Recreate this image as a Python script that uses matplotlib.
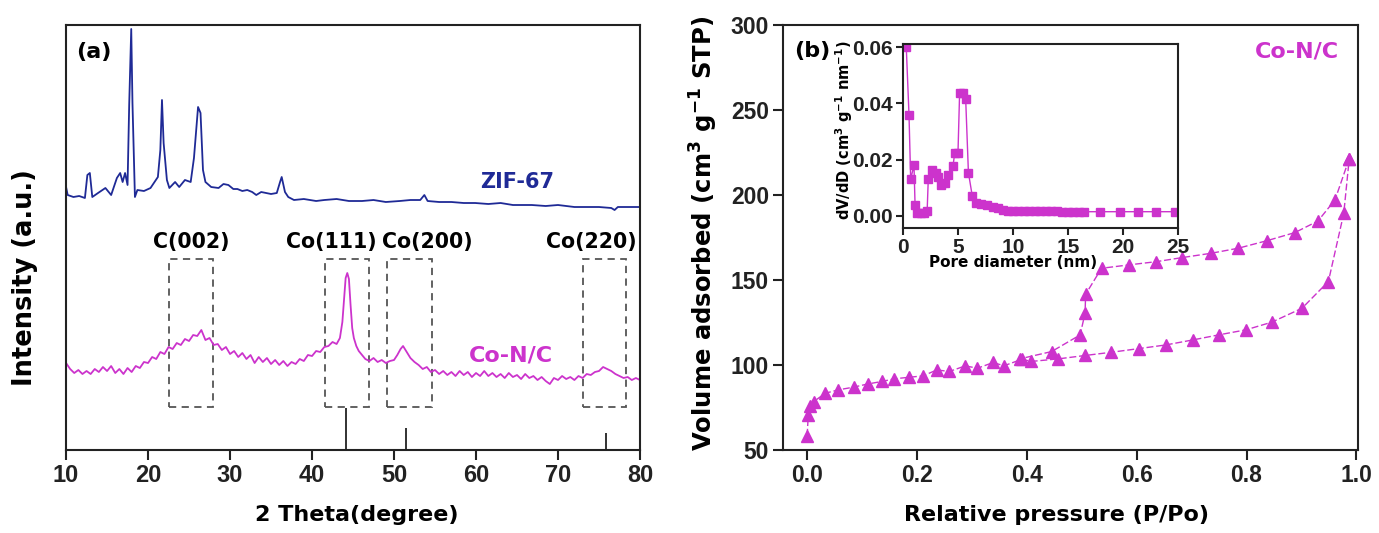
import matplotlib
matplotlib.use('Agg')
import matplotlib.pyplot as plt
from matplotlib.patches import Rectangle

# tick labels in Arial-like bold, text labels in the wider DejaVu bold
plt.rcParams['font.family'] = 'Liberation Sans'
plt.rcParams['font.weight'] = 'bold'
plt.rcParams['mathtext.default'] = 'regular'
LABEL_FONT = 'DejaVu Sans'

BLUE = '#1f2a96'
MAGENTA = '#cc33cc'
BOX_GRAY = '#555555'

# ---- (a) XRD (intensity in arbitrary units) ----
zif_x = [10.0, 10.2, 10.9, 11.6, 12.3, 12.6, 12.9, 13.2, 13.9, 14.8,
         15.5, 16.2, 16.6, 16.9, 17.2, 17.5, 17.7, 17.95, 18.1, 18.4,
         18.7, 19.5, 20.3, 21.2, 21.5, 21.7, 21.9, 22.3, 22.6, 23.3,
         23.8, 24.5, 25.2, 25.6, 26.1, 26.4, 26.7, 27.0, 27.7, 28.6,
         29.2, 29.8, 30.4, 30.9, 31.5, 32.1, 32.7, 33.2, 33.8, 34.4,
         35.0, 35.7, 36.1, 36.3, 36.7, 37.1, 37.8, 39.0, 40.5, 41.5,
         43.0, 44.5, 46.1, 47.5, 49.0, 50.7, 52.0, 53.2, 53.7, 54.1,
         55.5, 57.0, 58.5, 59.9, 61.5, 63.0, 64.5, 66.8, 68.5, 70.0,
         72.0, 73.7, 75.0, 76.5, 76.9, 77.3, 78.5, 80.0]
zif_y = [263, 255, 253, 254, 252, 275, 277, 253, 257, 262,
         255, 272, 277, 268, 277, 265, 345, 421, 347, 253,
         260, 259, 262, 273, 300, 350, 307, 270, 262, 268,
         263, 270, 268, 292, 343, 337, 280, 268, 263, 262,
         266, 265, 261, 261, 259, 260, 258, 255, 258, 257,
         256, 257, 268, 273, 258, 253, 250, 251, 249, 250,
         251, 249, 249, 250, 248, 249, 250, 250, 255, 249,
         248, 248, 247, 247, 246, 247, 245, 245, 244, 245,
         243, 243, 243, 242, 240, 243, 243, 243]

con_x = [10.0, 10.5, 11.0, 11.5, 12.0, 12.5, 13.0, 13.5, 14.0, 14.5,
         15.0, 15.5, 16.0, 16.5, 17.0, 17.5, 18.0, 18.5, 19.0, 19.5,
         20.0, 20.5, 21.0, 21.5, 22.0, 22.5, 23.0, 23.5, 24.0, 24.5,
         25.0, 25.5, 26.0, 26.5, 27.0, 27.5, 28.0, 28.5, 29.0, 29.5,
         30.0, 30.5, 31.0, 31.5, 32.0, 32.5, 33.0, 33.5, 34.0, 34.5,
         35.0, 35.5, 36.0, 36.5, 37.0, 37.5, 38.0, 38.5, 39.0, 39.5,
         40.0, 40.5, 41.0, 41.5, 42.0, 42.5, 43.0,
         43.4, 43.7, 43.9, 44.1, 44.3, 44.5, 44.7, 44.9, 45.1, 45.4, 45.7,
         46.0, 46.5, 47.0, 47.5, 48.0, 48.5, 49.0, 49.5, 50.0,
         50.4, 50.8, 51.1, 51.4, 51.7,
         52.0, 52.5, 53.0, 53.5, 54.0, 54.5, 55.0, 55.5, 56.0, 56.5,
         57.0, 57.5, 58.0, 58.5, 59.0, 59.5, 60.0, 60.5, 61.0, 61.5,
         62.0, 62.5, 63.0, 63.5, 64.0, 64.5, 65.0, 65.5, 66.0, 66.5,
         67.0, 67.5, 68.0, 68.5, 69.0, 69.5, 70.0, 70.5, 71.0, 71.5,
         72.0, 72.5, 73.0, 73.5, 74.0, 74.5, 75.0, 75.5, 76.0, 76.5,
         77.0, 77.5, 78.0, 78.5, 79.0, 79.5, 80.0]
con_y = [87, 81, 77, 80, 76, 79, 76, 81, 78, 83,
         79, 84, 77, 81, 76, 82, 78, 84, 82, 88,
         87, 93, 91, 98, 96, 103, 101, 107, 105, 111,
         109, 115, 114, 120, 110, 112, 105, 106, 100, 103,
         96, 99, 93, 97, 91, 95, 87, 93, 88, 92,
         86, 90, 85, 89, 84, 88, 86, 91, 89, 95,
         94, 99, 98, 103, 104, 108, 106,
         112, 128, 150, 172, 177, 171, 145, 122, 112, 104, 99,
         96, 91, 89, 92, 88, 90, 87, 89, 90,
         95, 101, 104, 100, 96,
         92, 88, 85, 81, 83, 78, 80, 76, 79, 75,
         78, 74, 79, 75, 78, 73, 77, 74, 79, 74,
         77, 73, 76, 72, 77, 73, 75, 71, 76, 72,
         74, 70, 73, 69, 66, 72, 70, 74, 71, 73,
         70, 74, 72, 76, 75, 78, 79, 83, 81, 79,
         76, 74, 72, 73, 70, 72, 70]

# Co reference pattern (sticks)
co_ref_x = [44.2, 51.5, 75.9]
co_ref_h = [42, 22, 17]

# highlighted regions and their labels
box_labels = ['C(002)', 'Co(111)', 'Co(200)', 'Co(220)']
box_lo = [22.5, 41.6, 49.2, 73.1]
box_hi = [27.9, 46.9, 54.6, 78.3]
box_label_x = [25.3, 42.4, 54.1, 74.1]

# ---- (b) N2 isotherm ----
ads_p = [0.000, 0.002, 0.005, 0.012, 0.033, 0.057, 0.085, 0.111, 0.136, 0.159,
         0.186, 0.211, 0.236, 0.259, 0.288, 0.310, 0.339, 0.358, 0.391, 0.408,
         0.457, 0.506, 0.554, 0.605, 0.653, 0.703, 0.749, 0.799, 0.846, 0.901,
         0.949, 0.977, 0.987]
ads_v = [58.4, 70.7, 75.6, 78.5, 83.4, 85.4, 87.0, 88.9, 90.3, 91.9,
         92.8, 93.6, 97.1, 96.2, 99.5, 98.1, 101.5, 99.5, 103.4, 102.1,
         103.6, 105.6, 107.5, 109.7, 111.8, 114.8, 117.7, 120.7, 125.2, 133.4,
         149.1, 189.2, 221.4]
des_p = [0.987, 0.961, 0.930, 0.888, 0.838, 0.785, 0.735, 0.683, 0.636, 0.586,
         0.536, 0.507, 0.506, 0.497, 0.445, 0.387]
des_v = [221.4, 197.1, 184.7, 177.9, 173.2, 168.7, 165.7, 163.2, 160.8, 158.9,
         156.9, 141.6, 130.5, 117.7, 107.9, 103.6]

# pore size distribution (inset)
psd_d = [0.3, 0.55, 0.7, 1.0, 1.1, 1.3, 1.6, 1.9, 2.2, 2.3,
         2.6, 3.0, 3.2, 3.5, 3.85, 4.1, 4.55, 4.7, 5.0, 5.15,
         5.5, 5.7, 5.95, 6.3, 6.67, 7.1, 7.6, 8.2, 8.6, 9.1,
         9.55, 10.0, 10.5, 11.0, 11.5, 12.0, 12.5, 13.0, 13.5, 14.0,
         14.5, 15.0, 15.5, 16.0, 16.5, 17.9, 19.7, 21.4, 23.0, 24.7]
psd_v = [0.060, 0.0358, 0.0130, 0.0181, 0.0039, 0.0012, 0.0012, 0.0012, 0.0019, 0.0130,
         0.0163, 0.0151, 0.0139, 0.0110, 0.0116, 0.0145, 0.0178, 0.0222, 0.0222, 0.0437,
         0.0437, 0.0417, 0.0154, 0.0071, 0.0045, 0.0041, 0.0038, 0.0033, 0.0027, 0.0021,
         0.0019, 0.0018, 0.0018, 0.0018, 0.0018, 0.0018, 0.0018, 0.0018, 0.0017, 0.0016,
         0.0015, 0.0015, 0.0015, 0.0015, 0.0015, 0.0015, 0.0015, 0.0015, 0.0015, 0.0015]


def style_axes(ax, size=16.5):
    for sp in ax.spines.values():
        sp.set_linewidth(1.5)
        sp.set_color('#222222')
    ax.tick_params(direction='out', length=7, width=1.5, colors='#222222',
                   labelsize=size, pad=3)


fig = plt.figure(figsize=(13.79, 5.33), dpi=100)

# ---------------- panel (a) ----------------
ax1 = fig.add_axes([0.0479, 0.1557, 0.4162, 0.7974])
ax1.plot(zif_x, zif_y, color=BLUE, lw=1.3)
ax1.plot(con_x, con_y, color=MAGENTA, lw=1.3)
ax1.vlines(co_ref_x, 0, co_ref_h, color='#222222', lw=1.3)

for lo, hi, lab, lx in zip(box_lo, box_hi, box_labels, box_label_x):
    ax1.add_patch(Rectangle((lo, 43), hi - lo, 148, fill=False,
                            ls=(0, (4, 3)), ec=BOX_GRAY, lw=1.3))
    ax1.text(lx, 208, lab, ha='center', va='center', fontsize=14.8,
             family=LABEL_FONT, fontweight='bold')

ax1.text(13.4, 398, '(a)', ha='center', va='center', fontsize=16,
         family=LABEL_FONT, fontweight='bold')
ax1.text(65.0, 268, 'ZIF-67', ha='center', va='center', fontsize=15,
         family=LABEL_FONT, fontweight='bold', color=BLUE)
ax1.text(64.3, 95, 'Co-N/C', ha='center', va='center', fontsize=16,
         family=LABEL_FONT, fontweight='bold', color=MAGENTA)

ax1.set_xlim(10, 80)
ax1.set_ylim(0, 425)
ax1.set_xticks([10, 20, 30, 40, 50, 60, 70, 80])
ax1.set_yticks([])
style_axes(ax1, size=17)
ax1.set_xlabel('2 Theta(degree)', family=LABEL_FONT, fontweight='bold',
               fontsize=16)
ax1.xaxis.set_label_coords(0.507, -0.129)
ax1.xaxis.label.set_va('top')
ax1.set_ylabel('Intensity (a.u.)', family=LABEL_FONT, fontweight='bold',
               fontsize=18.5)
ax1.yaxis.set_label_coords(-0.049, 0.406)

# ---------------- panel (b) ----------------
ax2 = fig.add_axes([0.5678, 0.1557, 0.417, 0.7974])
ax2.plot(ads_p, ads_v, color=MAGENTA, lw=1.0, ls=(0, (5, 2)),
         marker='^', ms=8.5, mec=MAGENTA, mfc=MAGENTA)
ax2.plot(des_p, des_v, color=MAGENTA, lw=1.0, ls=(0, (5, 2)),
         marker='^', ms=8.5, mec=MAGENTA, mfc=MAGENTA)
ax2.text(0.009, 284.7, '(b)', ha='center', va='center', fontsize=16,
         family=LABEL_FONT, fontweight='bold')
ax2.text(0.892, 284.2, 'Co-N/C', ha='center', va='center', fontsize=16,
         family=LABEL_FONT, fontweight='bold', color=MAGENTA)

ax2.set_xlim(-0.044, 1.003)
ax2.set_ylim(50, 300)
ax2.set_xticks([0.0, 0.2, 0.4, 0.6, 0.8, 1.0])
ax2.set_xticklabels(['0.0', '0.2', '0.4', '0.6', '0.8', '1.0'])
ax2.set_yticks([50, 100, 150, 200, 250, 300])
style_axes(ax2, size=16.5)
ax2.set_xlabel('Relative pressure (P/Po)', family=LABEL_FONT,
               fontweight='bold', fontsize=16)
ax2.xaxis.set_label_coords(0.475, -0.129)
ax2.xaxis.label.set_va('top')
ax2.set_ylabel('Volume adsorbed (cm$^{3}$ g$^{-1}$ STP)', family=LABEL_FONT,
               fontweight='bold', fontsize=17.5)
ax2.yaxis.set_label_coords(-0.11, 0.51)

# ---------------- inset ----------------
ins = fig.add_axes([0.6548, 0.5722, 0.1994, 0.3452])
ins.plot(psd_d, psd_v, color=MAGENTA, lw=1.0, marker='s', ms=6,
         mec=MAGENTA, mfc=MAGENTA)
ins.set_xlim(0, 25)
ins.set_ylim(-0.0043, 0.0611)
ins.set_xticks([0, 5, 10, 15, 20, 25])
ins.set_yticks([0.0, 0.02, 0.04, 0.06])
ins.set_yticklabels(['0.00', '0.02', '0.04', '0.06'])
style_axes(ins, size=15)
ins.tick_params(length=5, pad=2)
ins.set_xlabel('Pore diameter (nm)', family=LABEL_FONT, fontweight='bold',
               fontsize=11)
ins.xaxis.set_label_coords(0.4, -0.147)
ins.xaxis.label.set_va('top')
ins.set_ylabel('dV/dD (cm$^{3}$ g$^{-1}$ nm$^{-1}$)', family=LABEL_FONT,
               fontweight='bold', fontsize=10.5)
ins.yaxis.set_label_coords(-0.175, 0.53)

fig.savefig('out.png', dpi=100)
